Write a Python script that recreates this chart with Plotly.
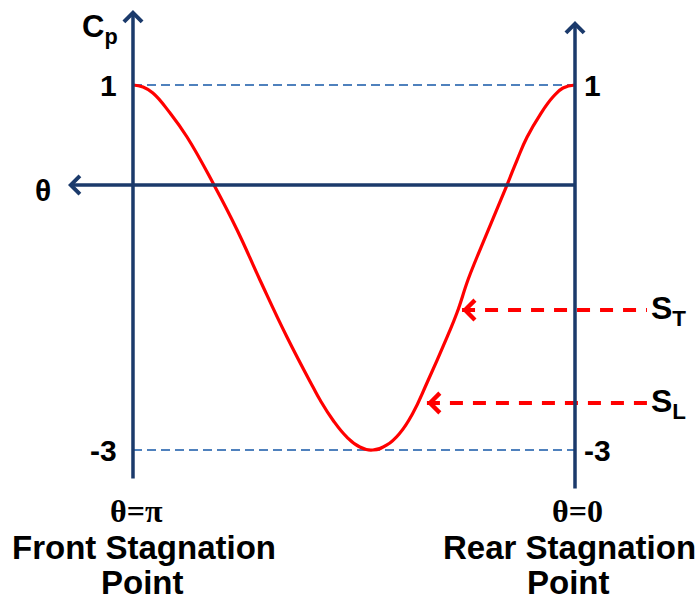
import plotly.graph_objects as go

# ---- data (theta in degrees, Cp) ----
theta_deg = [180.0, 175.9, 171.9, 164.9, 158.0, 147.0, 137.6, 128.3, 117.3,
             106.7, 103.8, 98.6, 92.9, 87.6, 82.3, 76.6, 71.3, 66.0, 60.3,
             52.1, 48.1, 43.6, 39.9, 27.7, 23.6, 19.5, 14.3,
             9.0, 4.9, 0.0]
cp_values = [1.0, 0.978, 0.912, 0.693, 0.430, -0.096, -0.589, -1.137, -1.762,
             -2.310, -2.452, -2.671, -2.858, -2.967, -3.0, -2.945, -2.814, -2.595, -2.266,
             -1.762, -1.499, -1.137, -0.885, -0.096, 0.178, 0.430, 0.671,
             0.868, 0.967, 1.0]

cp_ticks = [1, -3]
cp_tick_labels = ["1", "-3"]
theta_ends = [180.0, 0.0]           # front (θ=π) and rear (θ=0) stagnation points
theta_end_labels = ["θ=π", "θ=0"]
end_names = [["Front Stagnation", "Point"], ["Rear Stagnation", "Point"]]
marker_names = ["S<sub>T</sub>", "S<sub>L</sub>"]
marker_theta = [46.0, 60.3]         # where the S arrows touch the curve
marker_cp = [-1.466, -2.485]
theta_axis_cp = -0.096              # level of the horizontal θ axis

NAVY = "#1B3A6B"
LBLUE = "#4F81BD"
RED = "#FF0000"
W, H = 698, 600

# pixel <-> data helpers (plot area fills the whole figure)
X_RANGE = [234.16, -50.09]
Y_RANGE = [-4.6438, 1.9315]


def dx(px):
    return X_RANGE[0] + px / W * (X_RANGE[1] - X_RANGE[0])


def dy(py):
    return Y_RANGE[1] - py / H * (Y_RANGE[1] - Y_RANGE[0])


fig = go.Figure()
fig.add_trace(go.Scatter(x=theta_deg, y=cp_values, mode="lines",
                         line=dict(color=RED, width=3.2, shape="spline", smoothing=1.3),
                         hoverinfo="skip", showlegend=False))

shapes = []
annotations = []

# dashed light-blue reference lines at Cp = 1 and Cp = -3
for c in cp_ticks:
    shapes.append(dict(type="line", xref="x", yref="y", x0=theta_ends[0], x1=theta_ends[1],
                       y0=c, y1=c, line=dict(color=LBLUE, width=1.8, dash="9px,5px"), layer="below"))

SANS = "Liberation Sans"
SERIF = "Liberation Serif"

# axes drawn as arrows
axis_arrows = [
    (theta_ends[0], dy(10), theta_ends[0], dy(480)),
    (theta_ends[1], dy(21), theta_ends[1], dy(490)),
    (dx(68), theta_axis_cp, dx(577), theta_axis_cp),
]
for hx, hy, tx, ty in axis_arrows:
    annotations.append(dict(x=hx, y=hy, ax=tx, ay=ty, xref="x", yref="y", axref="x", ayref="y",
                            text="", showarrow=True, arrowhead=4, arrowsize=1.0,
                            arrowwidth=3.5, arrowcolor=NAVY))

# red dashed pointers S_T, S_L
for name, th, c in zip(marker_names, marker_theta, marker_cp):
    shapes.append(dict(type="line", xref="x", yref="y", x0=th, x1=dx(647), y0=c, y1=c,
                       line=dict(color=RED, width=4, dash="13px,10px")))
    annotations.append(dict(x=th, y=c, ax=th - 4.5, ay=c, xref="x", yref="y", axref="x", ayref="y",
                            text="", showarrow=True, arrowhead=4, arrowsize=0.95,
                            arrowwidth=4, arrowcolor=RED))
    annotations.append(dict(x=dx(649), y=c, xref="x", yref="y", text="<b>" + name + "</b>",
                            showarrow=False, xanchor="left", yanchor="middle",
                            font=dict(family=SANS, size=32, color="black")))

# tick labels 1 / -3 on both axes
for c, lab in zip(cp_ticks, cp_tick_labels):
    annotations.append(dict(x=dx(119), y=c, xref="x", yref="y", text="<b>" + lab + "</b>",
                            showarrow=False, xanchor="right", yanchor="middle",
                            font=dict(family=SANS, size=30, color="black")))
    annotations.append(dict(x=dx(582), y=c, xref="x", yref="y", text="<b>" + lab + "</b>",
                            showarrow=False, xanchor="left", yanchor="middle",
                            font=dict(family=SANS, size=30, color="black")))

# axis titles
annotations.append(dict(x=dx(100), y=dy(29), xref="x", yref="y", text="<b>C<sub>p</sub></b>",
                        showarrow=False, xanchor="center", yanchor="middle",
                        font=dict(family=SANS, size=31, color="black")))
annotations.append(dict(x=dx(43), y=dy(190), xref="x", yref="y", text="<b>θ</b>",
                        showarrow=False, xanchor="center", yanchor="middle",
                        font=dict(family=SANS, size=30, color="black")))

# end labels
end_px = [(136, 144, 142), (577, 569, 568)]
for th_lab, nm, (cx1, cx2, cx3) in zip(theta_end_labels, end_names, end_px):
    annotations.append(dict(x=dx(cx1), y=dy(511), xref="x", yref="y", text="<b>" + th_lab + "</b>",
                            showarrow=False, xanchor="center", yanchor="middle",
                            font=dict(family=SERIF, size=32, color="black")))
    annotations.append(dict(x=dx(cx2), y=dy(547), xref="x", yref="y", text="<b>" + nm[0] + "</b>",
                            showarrow=False, xanchor="center", yanchor="middle",
                            font=dict(family=SANS, size=33, color="black")))
    annotations.append(dict(x=dx(cx3), y=dy(582), xref="x", yref="y", text="<b>" + nm[1] + "</b>",
                            showarrow=False, xanchor="center", yanchor="middle",
                            font=dict(family=SANS, size=33, color="black")))

fig.update_layout(
    width=W, height=H, margin=dict(l=0, r=0, t=0, b=0),
    paper_bgcolor="white", plot_bgcolor="white",
    xaxis=dict(range=X_RANGE, visible=False, fixedrange=True),
    yaxis=dict(range=Y_RANGE, visible=False, fixedrange=True),
    shapes=shapes, annotations=annotations, showlegend=False,
)

fig.write_html("out.html", config={"displayModeBar": False},
               post_script="document.body.style.margin='0';")
